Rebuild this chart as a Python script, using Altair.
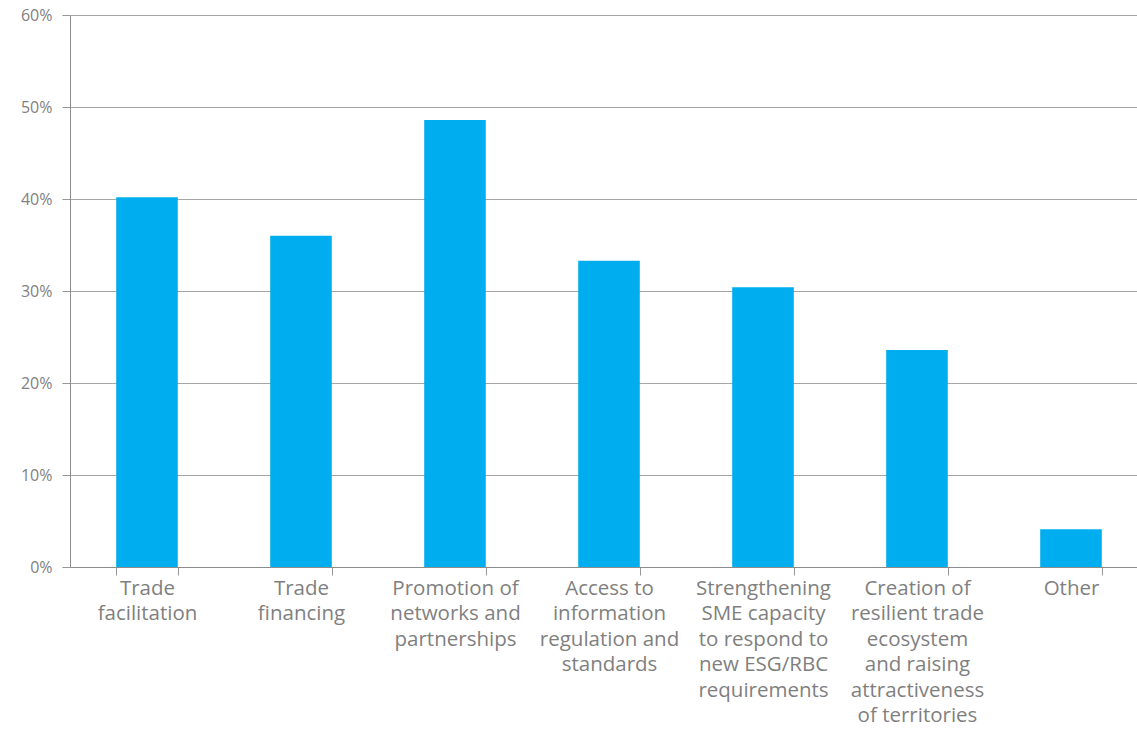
import altair as alt
import pandas as pd

categories = [
    "Trade facilitation",
    "Trade financing",
    "Promotion of networks and partnerships",
    "Access to information regulation and standards",
    "Strengthening SME capacity to respond to new ESG/RBC requirements",
    "Creation of resilient trade ecosystem and raising attractiveness of territories",
    "Other",
]
label_lines = [
    "Trade|facilitation",
    "Trade|financing",
    "Promotion of|networks and|partnerships",
    "Access to|information|regulation and|standards",
    "Strengthening|SME capacity|to respond to|new ESG/RBC|requirements",
    "Creation of|resilient trade|ecosystem|and raising|attractiveness|of territories",
    "Other",
]
values = [0.402, 0.360, 0.486, 0.333, 0.304, 0.236, 0.041]
y_ticks = [0, 0.1, 0.2, 0.3, 0.4, 0.5, 0.6]

df = pd.DataFrame({"category": label_lines, "value": values, "full": categories})

FONT = "Open Sans"
GREY = "#7f7f7f"

chart = (
    alt.Chart(df)
    .mark_bar(color="#00AEEF")
    .encode(
        x=alt.X(
            "category:N",
            sort=label_lines,
            scale=alt.Scale(paddingInner=0.6, paddingOuter=0.3, range=[0, 1078]),
            axis=alt.Axis(
                title=None,
                labelAngle=0,
                labelExpr="split(datum.label, '|')",
                labelFont=FONT,
                labelFontSize=20.5,
                labelColor=GREY,
                labelLineHeight=25.5,
                labelPadding=3,
                labelLimit=400,
                tickBand="extent",
                tickSize=8,
                tickColor="#999999",
                domainColor="#8c8c8c",
                grid=False,
            ),
        ),
        y=alt.Y(
            "value:Q",
            scale=alt.Scale(domain=[0, 0.6], nice=False),
            axis=alt.Axis(
                title=None,
                values=y_ticks,
                format=".0%",
                labelFont=FONT,
                labelFontSize=16,
                labelColor=GREY,
                labelPadding=10,
                tickSize=8,
                tickColor="#999999",
                domainColor="#8c8c8c",
                gridColor="#a6a6a6",
                gridWidth=1,
            ),
        ),
        tooltip=["full:N", alt.Tooltip("value:Q", format=".1%")],
    )
    .properties(
        width=1067,
        height=552,
        autosize=alt.AutoSizeParams(type="none"),
        padding={"left": 70, "top": 15, "right": 0, "bottom": 164},
    )
    .configure_view(stroke=None)
    .configure(background="white")
)

chart.save("out.html", embed_options={"renderer": "svg", "actions": False})
